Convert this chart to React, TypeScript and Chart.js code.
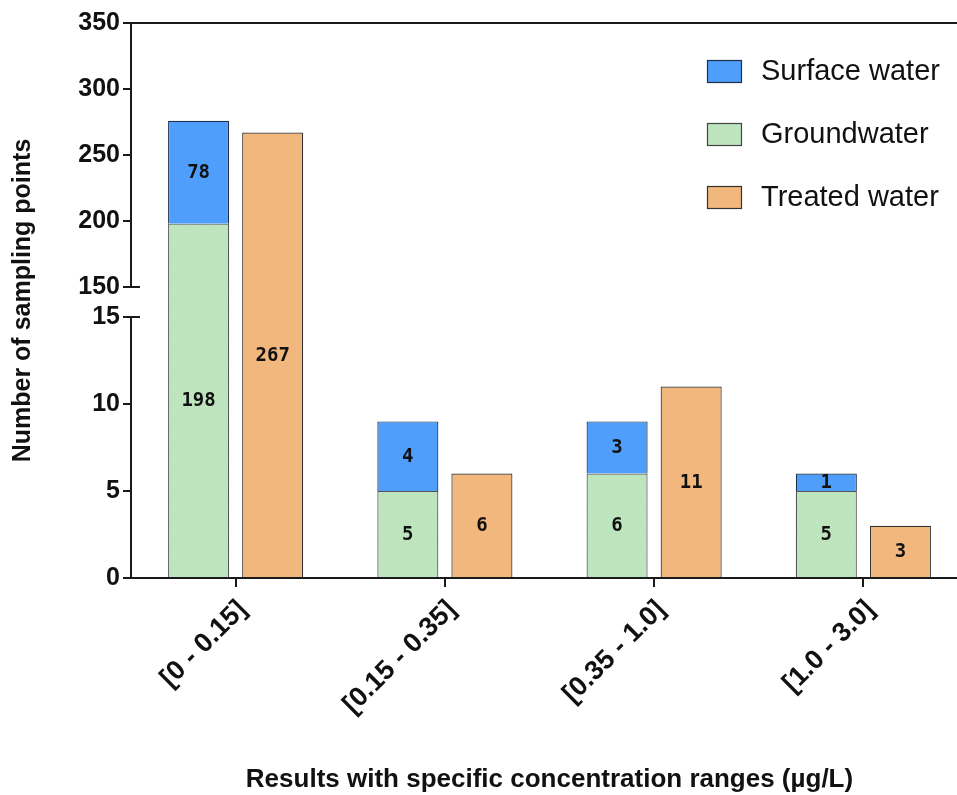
import React, { useEffect, useRef } from 'react';
import { Chart, registerables, LinearScale } from 'chart.js';

Chart.register(...registerables);

// ---------- data ----------
const categories = ['[0 - 0.15]', '[0.15 - 0.35]', '[0.35 - 1.0]', '[1.0 - 3.0]'];
const groundwater = [198, 5, 6, 5];
const surfaceWater = [78, 4, 3, 1];
const treatedWater = [267, 6, 11, 3];
const yTicks = [0, 5, 10, 15, 150, 200, 250, 300, 350];
const legendLabels = ['Surface water', 'Groundwater', 'Treated water'];

// broken axis definition
const LOWER_MAX = 15;
const UPPER_MIN = 150;
const AXIS_MAX = 350;
const LOWER_FRAC = 261 / 555;
const UPPER_FRAC = 291 / 555;

const BLUE = '#4f9efc';
const GREEN = '#c2e8c2';
const ORANGE = '#f2b77d';
const FONT = "'Liberation Sans', Arial, sans-serif";

class BrokenLinearScale extends LinearScale {
  static id = 'brokenLinear';
  static defaults = LinearScale.defaults;

  buildTicks() {
    this.start = this.min;
    this.end = this.max;
    return yTicks.map((v) => ({ value: v }));
  }

  valueToDecimal(value: number) {
    if (value <= LOWER_MAX) return (value / LOWER_MAX) * LOWER_FRAC;
    if (value <= UPPER_MIN)
      return LOWER_FRAC + ((value - LOWER_MAX) / (UPPER_MIN - LOWER_MAX)) * (UPPER_FRAC - LOWER_FRAC);
    return UPPER_FRAC + ((value - UPPER_MIN) / (AXIS_MAX - UPPER_MIN)) * (1 - UPPER_FRAC);
  }

  getPixelForValue(value: any) {
    if (value === null || value === undefined || isNaN(value)) return NaN;
    return this.getPixelForDecimal(this.valueToDecimal(+value));
  }

  getValueForPixel(pixel: number) {
    const dec = this.getDecimalForPixel(pixel);
    if (dec <= LOWER_FRAC) return (dec / LOWER_FRAC) * LOWER_MAX;
    if (dec <= UPPER_FRAC)
      return LOWER_MAX + ((dec - LOWER_FRAC) / (UPPER_FRAC - LOWER_FRAC)) * (UPPER_MIN - LOWER_MAX);
    return UPPER_MIN + ((dec - UPPER_FRAC) / (1 - UPPER_FRAC)) * (AXIS_MAX - UPPER_MIN);
  }
}
Chart.register(BrokenLinearScale as any);

function makeGreenPattern(): CanvasPattern | string {
  const c = document.createElement('canvas');
  c.width = 3;
  c.height = 3;
  const g = c.getContext('2d');
  if (!g) return GREEN;
  g.fillStyle = GREEN;
  g.fillRect(0, 0, 3, 3);
  g.fillStyle = '#b7dfb7';
  g.fillRect(0, 0, 1, 1);
  g.fillRect(2, 1, 1, 1);
  g.fillRect(1, 2, 1, 1);
  const p = g.createPattern(c, 'repeat');
  return p || GREEN;
}

export default function App() {
  const canvasRef = useRef<HTMLCanvasElement | null>(null);

  useEffect(() => {
    const canvas = canvasRef.current;
    if (!canvas) return;
    const greenFill = makeGreenPattern();

    const decorPlugin = {
      id: 'decor',
      afterDatasetsDraw(chart: any) {
        const ctx = chart.ctx;
        ctx.save();
        ctx.font = "bold 19px 'DejaVu Sans Mono', monospace";
        ctx.fillStyle = '#111';
        ctx.textAlign = 'center';
        ctx.textBaseline = 'middle';
        chart.data.datasets.forEach((ds: any, i: number) => {
          const meta = chart.getDatasetMeta(i);
          meta.data.forEach((bar: any, j: number) => {
            const { x, y, base } = bar.getProps(['x', 'y', 'base'], true);
            ctx.fillText(String(ds.data[j]), x, (y + base) / 2 + 1);
          });
        });
        ctx.restore();
      },
      afterDraw(chart: any) {
        const ctx = chart.ctx;
        const y = chart.scales.y;
        const area = chart.chartArea;
        const ax = area.left;
        ctx.save();
        ctx.strokeStyle = '#1a1a1a';
        ctx.lineWidth = 2;
        // upper axis segment
        ctx.beginPath();
        ctx.moveTo(ax, y.getPixelForValue(AXIS_MAX));
        ctx.lineTo(ax, y.getPixelForValue(UPPER_MIN));
        ctx.stroke();
        // lower axis segment
        ctx.beginPath();
        ctx.moveTo(ax, y.getPixelForValue(LOWER_MAX));
        ctx.lineTo(ax, y.getPixelForValue(0));
        ctx.stroke();
        // break marks
        [UPPER_MIN, LOWER_MAX].forEach((v) => {
          const py = Math.round(y.getPixelForValue(v));
          ctx.beginPath();
          ctx.moveTo(ax - 8, py);
          ctx.lineTo(ax + 9, py);
          ctx.stroke();
        });
        // top line
        const topY = y.getPixelForValue(AXIS_MAX);
        ctx.beginPath();
        ctx.moveTo(ax - 8, topY);
        ctx.lineTo(chart.width, topY);
        ctx.stroke();

        // legend
        const items = [
          { label: legendLabels[0], fill: BLUE, stroke: '#1d2f4a' },
          { label: legendLabels[1], fill: greenFill, stroke: '#444' },
          { label: legendLabels[2], fill: ORANGE, stroke: '#333' },
        ];
        ctx.lineWidth = 1.2;
        items.forEach((it, k) => {
          const cy = 71 + k * 63;
          ctx.fillStyle = it.fill as any;
          ctx.fillRect(707, cy - 11, 34, 22);
          ctx.strokeStyle = it.stroke;
          ctx.strokeRect(707.5, cy - 10.5, 34, 22);
          ctx.fillStyle = '#111';
          ctx.font = `29px ${FONT}`;
          ctx.textAlign = 'left';
          ctx.textBaseline = 'middle';
          ctx.fillText(it.label, 761, cy + 1);
        });
        ctx.restore();
      },
    };

    const chart = new Chart(canvas, {
      type: 'bar',
      data: {
        labels: categories,
        datasets: [
          {
            label: 'Groundwater',
            data: groundwater,
            stack: 'a',
            backgroundColor: greenFill as any,
            borderColor: '#555',
            borderWidth: 1.2,
          },
          {
            label: 'Surface water',
            data: surfaceWater,
            stack: 'a',
            backgroundColor: BLUE,
            borderColor: '#1d2f4a',
            borderWidth: 1.2,
          },
          {
            label: 'Treated water',
            data: treatedWater,
            stack: 'b',
            backgroundColor: ORANGE,
            borderColor: '#333',
            borderWidth: 1.2,
          },
        ],
      },
      options: {
        responsive: false,
        animation: false,
        devicePixelRatio: 1,
        layout: { padding: { top: 23, right: 7, bottom: 0, left: 0 } },
        datasets: {
          bar: { categoryPercentage: 0.708, barPercentage: 0.824 },
        },
        plugins: {
          legend: { display: false },
          tooltip: { enabled: false },
        },
        scales: {
          x: {
            stacked: true,
            offset: true,
            border: { display: true, color: '#1a1a1a', width: 2 },
            grid: {
              offset: false,
              drawOnChartArea: false,
              drawTicks: true,
              tickLength: 9,
              color: '#1a1a1a',
              lineWidth: 2,
            },
            ticks: {
              minRotation: 45,
              maxRotation: 45,
              autoSkip: false,
              color: '#111',
              padding: 7,
              labelOffset: 7,
              font: { family: FONT, size: 27, weight: 'bold' },
            },
            title: {
              display: true,
              text: 'Results with specific concentration ranges (µg/L)',
              color: '#111',
              font: { family: FONT, size: 26, weight: 'bold' },
              padding: { top: 0, bottom: 0 },
            },
            afterFit: (scale: any) => {
              scale.height = 217;
            },
          },
          y: {
            type: 'brokenLinear' as any,
            stacked: true,
            min: 0,
            max: AXIS_MAX,
            border: { display: false },
            grid: {
              drawOnChartArea: false,
              drawTicks: true,
              tickLength: 8,
              color: '#1a1a1a',
              lineWidth: 2,
            },
            ticks: {
              autoSkip: false,
              color: '#111',
              padding: 3,
              font: { family: FONT, size: 25, weight: 'bold' },
              callback: (v: any) => String(v),
            },
            title: {
              display: true,
              text: 'Number of sampling points',
              color: '#111',
              font: { family: FONT, size: 25, weight: 'bold' },
              padding: { top: 8, bottom: 0 },
            },
            afterFit: (scale: any) => {
              scale.width = 131;
            },
          } as any,
        },
      },
      plugins: [decorPlugin],
    });

    return () => {
      chart.destroy();
    };
  }, []);

  return (
    <div
      style={{
        position: 'absolute',
        left: 0,
        top: 0,
        width: 957,
        height: 795,
        overflow: 'hidden',
        background: '#fff',
      }}
    >
      <canvas ref={canvasRef} width={975} height={795} style={{ width: 975, height: 795, display: 'block' }} />
    </div>
  );
}
